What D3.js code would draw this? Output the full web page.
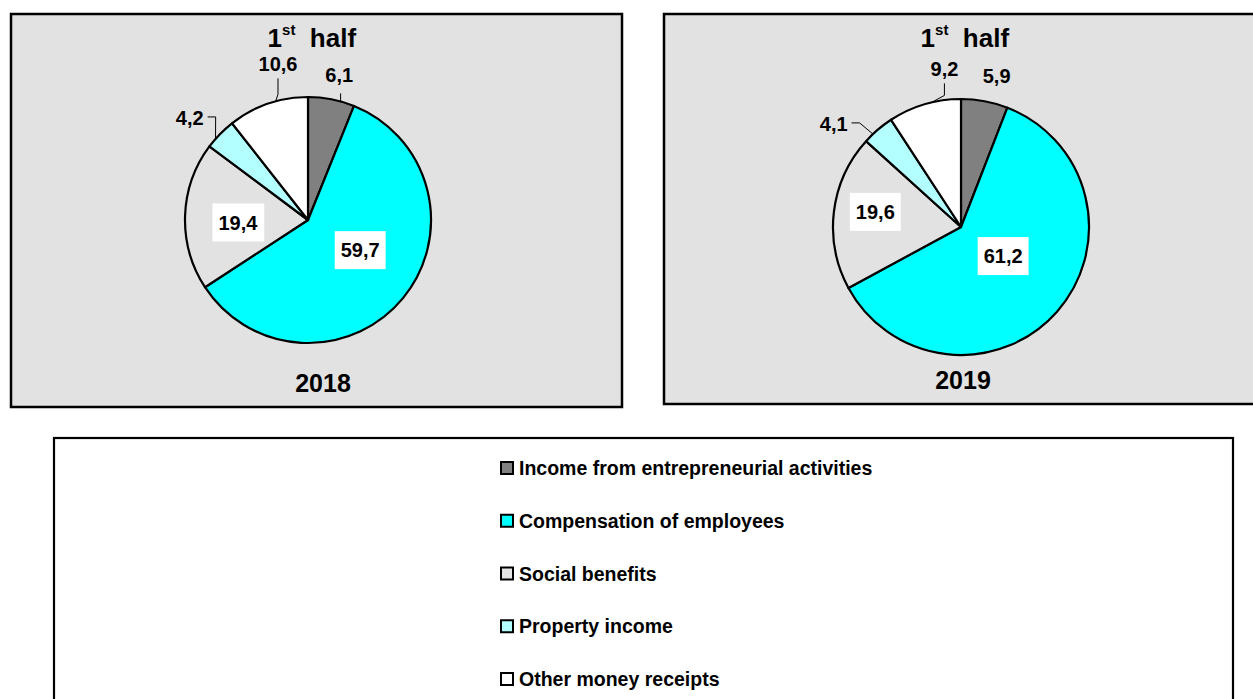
<!DOCTYPE html>
<html>
<head>
<meta charset="utf-8">
<script src="https://cdn.jsdelivr.net/npm/d3@7"></script>
<style>
  body { margin: 0; background: #ffffff; }
  svg { display: block; font-family: Arial, "Liberation Sans", sans-serif; }
</style>
</head>
<body>
<svg id="chart" width="1253" height="699"></svg>
<script>
// ---- data ----
const categories = [
  "Income from entrepreneurial activities",
  "Compensation of employees",
  "Social benefits",
  "Property income",
  "Other money receipts"
];
const values2018 = [6.1, 59.7, 19.4, 4.2, 10.6];
const values2019 = [5.9, 61.2, 19.6, 4.1, 9.2];
const years = ["2018", "2019"];
const periodLabel = ["1", "st", "half"];

// ---- style ----
const colors = ["#808080", "#00ffff", "#e2e2e2", "#b3ffff", "#ffffff"];
const panelBg = "#e2e2e2";
const fmt = v => d3.format(".1f")(v).replace(".", ",");

const svg = d3.select("#chart");

// label placement (polar, relative to pie radius) and leader style per slice
const panels = [
  { values: values2018, year: years[0], box: [11, 14, 611, 393], cx: 308, cy: 220, r: 123,
    titleY: 47, yearX: 323, yearY: 392,
    labelR: [1.21, 0.49, 0.57, 1.27, 1.29], labelA: [12.1, 120, 268, 310.8, 349.1],
    leader: ["tick", null, null, "side", "up"] },
  { values: values2019, year: years[1], box: [664, 14, 620, 390], cx: 961, cy: 227, r: 128,
    titleY: 47, yearX: 963, yearY: 389,
    labelR: [1.21, 0.40, 0.68, 1.28, 1.24], labelA: [13.3, 124.6, 280, 309, 354],
    leader: [null, null, null, "side", "up"] }
];

const pie = d3.pie().sort(null).value(d => d);

panels.forEach(p => {
  const [bx, by, bw, bh] = p.box;
  svg.append("rect").attr("x", bx).attr("y", by).attr("width", bw).attr("height", bh)
    .attr("fill", panelBg).attr("stroke", "#000").attr("stroke-width", 2.5);

  const g = svg.append("g").attr("transform", `translate(${p.cx},${p.cy})`);
  const arc = d3.arc().innerRadius(0).outerRadius(p.r);
  const arcs = pie(p.values);

  g.selectAll("path.slice").data(arcs).join("path")
    .attr("class", "slice")
    .attr("d", arc)
    .attr("fill", (d, i) => colors[i])
    .attr("stroke", "#000").attr("stroke-width", 2.2).attr("stroke-linejoin", "round");

  arcs.forEach((d, i) => {
    const ang = p.labelA[i] * Math.PI / 180;
    const rr = p.labelR[i] * p.r;
    const lx = rr * Math.sin(ang), ly = -rr * Math.cos(ang);
    const txt = fmt(p.values[i]);
    const inside = p.labelR[i] < 1;
    const t = g.append("text").attr("x", lx).attr("y", ly).attr("dy", "0.36em")
      .attr("text-anchor", "middle").attr("font-size", 20).attr("font-weight", "bold")
      .text(txt);
    if (inside) {
      const bb = t.node().getBBox();
      g.insert("rect", "text")
        .attr("x", bb.x - 6).attr("y", ly - 19).attr("width", bb.width + 12).attr("height", 38)
        .attr("fill", "#fff");
      t.raise();
      return;
    }
    const bb = t.node().getBBox();
    let pts = null;
    if (p.leader[i] === "tick") {
      const a = d.startAngle + (d.endAngle - d.startAngle) * 0.7;
      const x0 = p.r * Math.sin(a), y0 = -p.r * Math.cos(a);
      pts = [[x0, y0 + 1], [x0, y0 - 8]];
    } else if (p.leader[i] === "side") {
      const a = d.startAngle + (d.endAngle - d.startAngle) * 0.3;
      const x0 = p.r * Math.sin(a), y0 = -p.r * Math.cos(a);
      const yy = ly - 1;
      pts = [[x0, y0], [bb.x + bb.width + 12, yy], [bb.x + bb.width + 4, yy]];
    } else if (p.leader[i] === "up") {
      const a = d.startAngle + (d.endAngle - d.startAngle) * 0.6;
      const x0 = p.r * Math.sin(a), y0 = -p.r * Math.cos(a);
      pts = [[x0, y0], [lx, y0 - 7], [lx, bb.y + bb.height + 3]];
    }
    if (pts) {
      g.append("path").attr("d", d3.line()(pts)).attr("fill", "none")
        .attr("stroke", "#000").attr("stroke-width", 1);
    }
  });

  // title "1st half"
  const title = svg.append("text").attr("y", p.titleY).attr("font-size", 26).attr("font-weight", "bold");
  title.append("tspan").text(periodLabel[0]);
  title.append("tspan").attr("font-size", 15).attr("dy", -12).text(periodLabel[1]);
  title.append("tspan").attr("dy", 12).text("\u00a0\u00a0" + periodLabel[2]);
  const tb = title.node().getBBox();
  title.attr("x", p.cx + 4 - tb.width / 2);

  svg.append("text").attr("x", p.yearX).attr("y", p.yearY).attr("text-anchor", "middle")
    .attr("font-size", 25).attr("font-weight", "bold").text(p.year);
});

// ---- legend ----
svg.append("rect").attr("x", 54).attr("y", 438).attr("width", 1179).attr("height", 300)
  .attr("fill", "#fff").attr("stroke", "#000").attr("stroke-width", 2.2);

const lyScale = d3.scalePoint().domain(categories).range([468, 679]);
const lg = svg.append("g");
categories.forEach((c, i) => {
  lg.append("rect").attr("x", 501).attr("y", lyScale(c) - 6).attr("width", 12).attr("height", 12)
    .attr("fill", colors[i] === "#e2e2e2" ? "#e6e6e6" : colors[i])
    .attr("stroke", "#000").attr("stroke-width", 2);
  lg.append("text").attr("x", 519).attr("y", lyScale(c)).attr("dy", "0.36em")
    .attr("font-size", 19.5).attr("font-weight", "bold").text(c);
});
</script>
</body>
</html>
